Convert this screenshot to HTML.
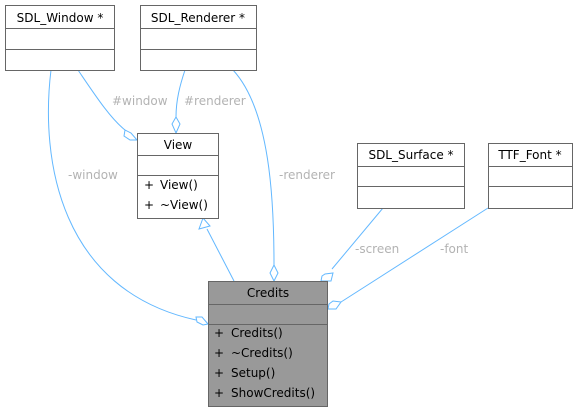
<!DOCTYPE html>
<html><head><meta charset="utf-8"><style>
html,body{margin:0;padding:0;background:#fff;}
</style></head><body>
<svg width="578" height="412" viewBox="0 0 578 412" xmlns="http://www.w3.org/2000/svg" font-family="DejaVu Sans, Liberation Sans, sans-serif" font-size="12">
<g fill="none" stroke="#63b8ff" stroke-width="1">
<path d="M78,70 C95,95 110,118 125,130"/>
<polygon points="137,140 131,133 125,130 124,136 130,140" fill="#fff"/>
<path d="M185,70 C180,85 176,100 176,117"/>
<polygon points="176,133 180,124 176,117 172,124" fill="#fff"/>
<path d="M51,70 C40,160 60,290 196,320"/>
<polygon points="208,324 202,317 196,317 197,322 203,325" fill="#fff"/>
<path d="M233,70 C270,110 274,200 274,265"/>
<polygon points="274,281 278,273 274,265 270,273" fill="#fff"/>
<path d="M234,281 L207,229"/>
<polygon points="203,218 199,229 210,226" fill="#fff"/>
<path d="M383,208 L332,269"/>
<polygon points="321,281 331,281 333,273 325,274 322,276" fill="#fff"/>
<path d="M488,208 L341,302"/>
<polygon points="328,309 336,309 341,302 333,301 329,304" fill="#fff"/>
</g>
<g fill="#fff" stroke="#666">
<rect x="5.5" y="5.5" width="109" height="65"/>
<line x1="5.5" y1="28.5" x2="114.5" y2="28.5"/><line x1="5.5" y1="49.5" x2="114.5" y2="49.5"/>
<rect x="140.5" y="5.5" width="116" height="65"/>
<line x1="140.5" y1="28.5" x2="256.5" y2="28.5"/><line x1="140.5" y1="49.5" x2="256.5" y2="49.5"/>
<rect x="137.5" y="133.5" width="81" height="85"/>
<line x1="137.5" y1="155.5" x2="218.5" y2="155.5"/><line x1="137.5" y1="175.5" x2="218.5" y2="175.5"/>
<rect x="357.5" y="143.5" width="107" height="65"/>
<line x1="357.5" y1="166.5" x2="464.5" y2="166.5"/><line x1="357.5" y1="186.5" x2="464.5" y2="186.5"/>
<rect x="488.5" y="143.5" width="84" height="65"/>
<line x1="488.5" y1="166.5" x2="572.5" y2="166.5"/><line x1="488.5" y1="186.5" x2="572.5" y2="186.5"/>
<rect x="208.5" y="281.5" width="119" height="125" fill="#999"/>
<line x1="208.5" y1="304.5" x2="327.5" y2="304.5"/><line x1="208.5" y1="324.5" x2="327.5" y2="324.5"/>
</g>
<g fill="#000">
<text x="60" y="22" text-anchor="middle">SDL_Window *</text>
<text x="198" y="22" text-anchor="middle">SDL_Renderer *</text>
<text x="178" y="149" text-anchor="middle">View</text>
<text x="144" y="189">+</text><text x="160" y="189">View()</text>
<text x="144" y="209">+</text><text x="160" y="209">~View()</text>
<text x="411" y="159" text-anchor="middle">SDL_Surface *</text>
<text x="530" y="159" text-anchor="middle">TTF_Font *</text>
<text x="268" y="297" text-anchor="middle">Credits</text>
<text x="214" y="337">+</text><text x="231" y="337">Credits()</text>
<text x="214" y="357">+</text><text x="231" y="357">~Credits()</text>
<text x="214" y="377">+</text><text x="231" y="377">Setup()</text>
<text x="214" y="397">+</text><text x="231" y="397">ShowCredits()</text>
</g>
<g fill="#b3b3b3">
<text x="112" y="105">#window</text>
<text x="184" y="105">#renderer</text>
<text x="68" y="179">-window</text>
<text x="279" y="179">-renderer</text>
<text x="355" y="253">-screen</text>
<text x="440" y="253">-font</text>
</g>
</svg>
</body></html>
